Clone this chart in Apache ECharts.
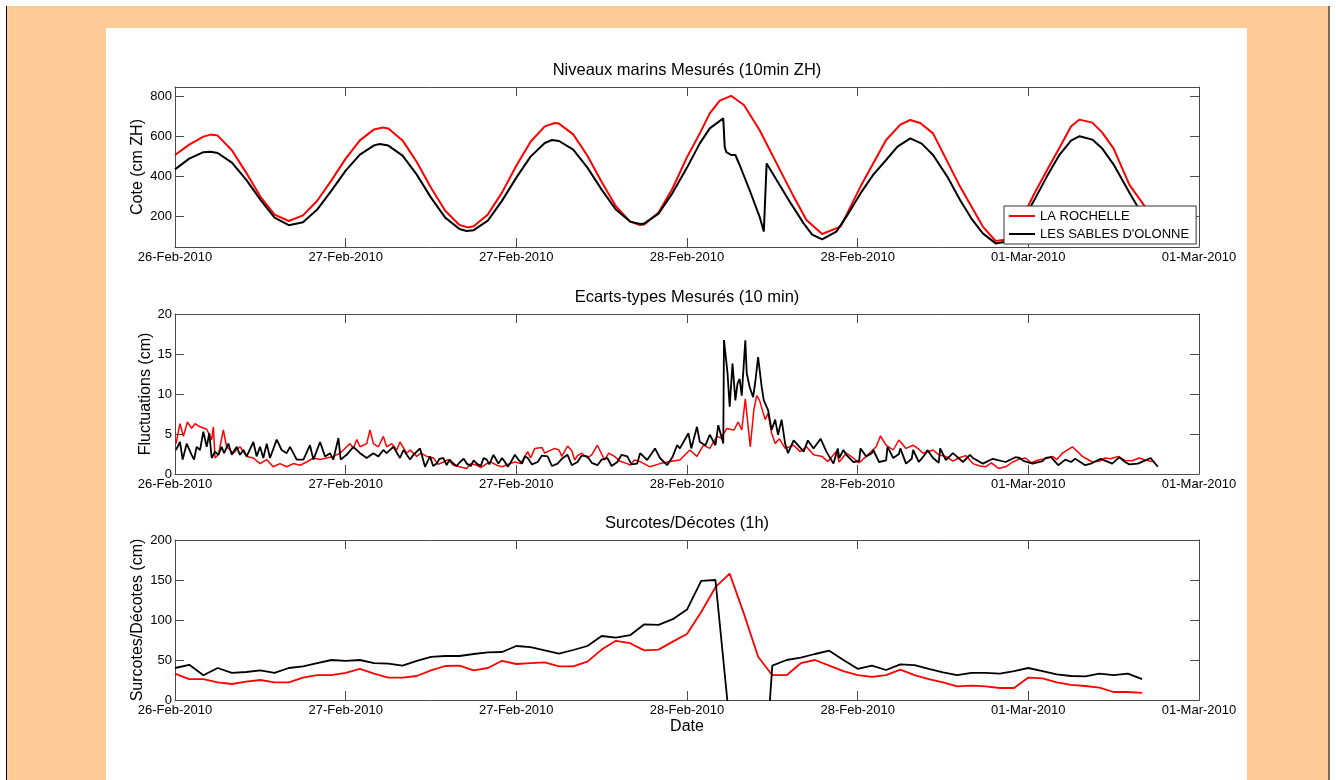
<!DOCTYPE html>
<html><head><meta charset="utf-8">
<script src="https://cdn.jsdelivr.net/npm/echarts@6/dist/echarts.min.js"></script>
<style>
html,body{margin:0;padding:0;background:#fff;width:1336px;height:780px;overflow:hidden;}
#bg{position:absolute;left:7px;top:6px;width:1321px;height:774px;background:#FFCC99;}
#lline{position:absolute;left:6px;top:6px;width:1px;height:774px;background:#000;}
#rline{position:absolute;left:1328px;top:6px;width:2px;height:774px;background:#7d6b5d;}
#panel{position:absolute;left:106px;top:28px;width:1141px;height:752px;background:#fff;}
#chart{position:absolute;left:0;top:0;width:1336px;height:780px;}
</style></head><body>
<div id="bg"></div><div id="lline"></div><div id="rline"></div><div id="panel"></div>
<div id="chart"></div>
<script>
// x axis: hours since 26-Feb-2010 12:00, tick every 12 h
const tickLabels = ['26-Feb-2010','27-Feb-2010','27-Feb-2010','28-Feb-2010','28-Feb-2010','01-Mar-2010','01-Mar-2010'];
const seriesNames = ['LA ROCHELLE', "LES SABLES D'OLONNE"];
const titles = ['Niveaux marins Mesurés (10min ZH)', 'Ecarts-types Mesurés (10 min)', 'Surcotes/Décotes (1h)'];
const yNames = ['Cote (cm ZH)', 'Fluctuations (cm)', 'Surcotes/Décotes (cm)'];
const topTicks = [200, 400, 600, 800];

// --- Niveaux marins (cm ZH) ---
const levelHoursRochelle = [0,1,2,2.5,3,4,5,6,7,8,9,10,11,12,13,14,14.6,15,16,17,18,19,20,20.6,21,22,23,24,25,26,26.7,27,28,29,30,31,32,32.7,33,34,35,36,36.9,37.6,38.3,39.1,40.0,41.1,42.3,43.5,44.4,45.5,46.8,48.2,50.0,51.0,51.7,52.4,53.3,55.2,56.8,57.7,58.5,59.0,60.4,61.3,62.2,63.0,63.6,64.5,65.2,66.0,67.1,68.3,69.5];
const levelRochelle = [508,560,600,610,605,532,420,300,210,178,206,279,381,490,581,636,645,640,581,473,344,229,158,146,152,211,321,454,574,651,668,665,611,504,373,252,175,158,161,221,343,497,616,716,780,804,758,633,466,300,183,113,150,350,583,660,683,668,616,350,150,78,85,112,312,430,545,650,685,670,620,540,360,240,120];
const levelHoursSables = [0,1,2,2.5,3,4,5,6,7,8,9,10,11,12,13,14,14.4,15,16,17,18,19,20,20.5,21,22,23,24,25,26,26.5,27,28,29,30,31,32,32.7,33,34,35,36,36.9,37.6,38.55,38.65,38.75,39.1,39.4,39.7,40.4,41.1,41.4,41.6,42.3,43.3,44.2,44.8,45.5,46.5,47.3,48.2,49.1,50.0,50.8,51.7,52.5,53.3,54.3,55.2,56.0,56.8,57.7,58.5,59.0,60.4,61.3,62.2,63.0,63.6,64.5,65.2,66.0,67.1,67.7,68.5,69.5];
const levelSables = [436,490,522,524,518,470,385,285,195,157,172,235,330,430,510,556,563,555,505,410,295,195,138,128,132,180,280,395,500,568,583,578,535,445,335,235,175,163,166,215,320,445,566,641,691,550,524,508,508,458,333,200,125,466,383,266,166,110,86,125,210,316,410,483,550,591,565,508,400,283,190,116,66,75,100,280,400,510,580,602,585,540,460,320,248,170,100];

// --- Ecarts-types (cm), [hour, value] ---
const stdRochelle = [[0.07,3.8],[0.35,6.3],[0.59,4.7],[0.87,6.5],[1.17,5.7],[1.41,6.3],[1.76,5.9],[2.23,5.6],[2.58,4.3],[2.70,5.9],[2.81,2.0],[3.05,2.4],[3.40,5.5],[3.63,3.4],[4.10,2.6],[4.57,3.4],[5.04,2.2],[5.51,2.0],[5.98,1.3],[6.45,1.8],[6.91,0.9],[7.38,1.3],[7.85,0.9],[8.32,1.3],[8.79,1.1],[9.26,1.5],[9.73,2.0],[10.20,1.8],[10.67,2.0],[11.13,2.2],[11.60,2.6],[12.07,3.4],[12.31,3.8],[12.54,3.2],[12.78,4.3],[13.01,3.4],[13.48,3.8],[13.71,5.5],[13.95,3.8],[14.30,3.4],[14.65,4.7],[14.88,3.4],[15.24,3.8],[15.59,3.0],[15.82,4.0],[16.29,2.6],[16.53,3.0],[16.99,2.2],[17.3,2.6],[17.70,2.2],[18.17,2.0],[18.5,1.2],[18.87,1.5],[19.2,1.8],[19.57,1.1],[20.0,0.9],[20.51,0.7],[20.8,1.3],[21.21,1.1],[21.5,0.8],[21.92,1.3],[22.2,1.5],[22.62,1.1],[23.0,0.9],[23.4,1.2],[23.9,1.5],[24.3,1.3],[24.8,2.8],[25.0,2.0],[25.3,3.2],[25.8,3.3],[26.0,2.6],[26.2,2.8],[26.7,3.2],[27.0,3.0],[27.2,2.2],[27.6,3.5],[27.9,2.9],[28.1,1.75],[28.3,2.3],[28.6,2.6],[29.0,2.0],[29.3,2.4],[29.7,3.6],[30.2,1.75],[30.5,2.6],[30.9,2.2],[31.3,1.6],[31.8,1.3],[32.0,1.1],[32.3,1.75],[32.7,1.55],[33.4,0.9],[34.1,1.3],[34.8,1.55],[35.5,1.75],[36.2,3.0],[36.7,2.2],[37.15,3.6],[37.6,3.2],[38.1,4.7],[38.4,4.5],[38.8,5.7],[39.3,5.5],[39.6,6.5],[39.85,5.5],[40.1,9.4],[40.3,5.9],[40.45,3.4],[40.7,8.0],[40.9,9.8],[41.1,9.2],[41.5,6.8],[41.7,7.6],[41.95,5.1],[42.2,3.8],[42.5,4.4],[42.9,3.2],[43.5,3.6],[43.95,2.8],[44.4,3.4],[44.9,2.4],[45.5,2.2],[45.9,1.55],[46.5,2.8],[46.7,1.5],[47.2,2.6],[47.7,2.0],[48.1,1.4],[48.6,2.2],[49.3,3.4],[49.6,4.75],[50.0,3.6],[50.5,3.0],[50.9,4.25],[51.4,3.2],[51.9,3.6],[52.3,3.1],[52.6,2.6],[53.3,3.0],[53.7,2.4],[54.2,2.2],[54.7,1.6],[55.1,2.0],[55.6,2.3],[56.1,1.3],[56.6,1.0],[57.0,0.9],[57.4,1.4],[57.9,0.7],[58.4,0.9],[58.9,1.5],[59.3,1.8],[59.8,2.0],[60.2,1.4],[60.7,1.75],[61.2,1.9],[61.7,2.2],[62.0,1.8],[62.4,2.6],[63.1,3.4],[63.8,2.2],[64.0,2.0],[64.5,1.5],[65.0,1.6],[65.4,2.0],[65.8,1.9],[66.3,2.2],[66.8,1.7],[67.3,1.65],[67.8,2.0],[68.2,1.75],[68.6,1.6],[68.9,1.5]];
const stdSables = [[0.07,3.0],[0.35,4.0],[0.54,1.8],[0.82,3.8],[1.17,2.4],[1.34,1.8],[1.52,3.4],[1.76,3.0],[1.99,5.3],[2.23,3.4],[2.41,5.1],[2.58,2.0],[2.81,2.8],[3.05,2.4],[3.28,3.4],[3.45,2.6],[3.75,3.8],[3.99,2.4],[4.34,3.4],[4.57,2.4],[4.81,3.0],[5.04,2.2],[5.51,4.0],[5.74,2.2],[5.98,3.4],[6.21,2.0],[6.45,3.8],[6.68,2.0],[7.15,4.3],[7.50,3.0],[7.85,2.6],[8.09,3.4],[8.56,1.8],[9.03,1.8],[9.49,3.6],[9.73,1.8],[10.20,4.0],[10.55,2.2],[10.90,2.6],[11.13,1.8],[11.49,4.5],[11.65,1.8],[12.07,2.4],[12.54,3.4],[13.01,2.6],[13.48,2.0],[13.95,2.6],[14.30,2.2],[14.65,3.0],[14.88,2.6],[15.35,3.4],[15.82,2.0],[16.06,3.0],[16.53,1.8],[16.76,2.4],[17.23,3.2],[17.58,0.9],[17.93,2.2],[18.15,1.0],[18.40,1.3],[18.6,1.9],[18.87,2.0],[19.1,1.1],[19.3,1.8],[19.57,1.3],[19.8,1.0],[20.04,1.5],[20.3,1.9],[20.51,1.3],[20.8,1.0],[21.0,1.7],[21.21,1.3],[21.5,1.0],[21.7,2.0],[21.92,1.8],[22.1,1.2],[22.39,2.4],[22.74,1.3],[23.0,2.0],[23.2,1.5],[23.4,0.9],[23.65,1.6],[23.9,2.4],[24.1,1.9],[24.4,1.3],[24.6,2.2],[24.8,2.0],[25.1,1.2],[25.5,1.5],[25.8,2.3],[26.2,2.2],[26.5,1.0],[26.9,1.3],[27.2,1.9],[27.6,2.4],[27.9,1.1],[28.3,1.5],[28.6,2.3],[29.0,2.2],[29.3,1.4],[29.7,1.1],[30.0,1.8],[30.4,2.0],[30.7,1.0],[31.1,1.5],[31.4,2.4],[31.8,2.2],[32.1,1.2],[32.5,1.3],[32.7,2.6],[33.2,1.75],[33.75,3.2],[34.1,2.0],[34.6,1.1],[35.0,2.2],[35.3,3.6],[35.5,3.2],[36.1,5.1],[36.3,3.2],[36.7,5.9],[36.9,4.0],[37.3,3.6],[37.6,4.9],[38.0,3.6],[38.2,6.1],[38.55,3.8],[38.6,16.75],[38.85,12.6],[39.0,8.4],[39.2,13.8],[39.4,9.2],[39.55,11.3],[39.7,11.9],[39.85,9.8],[40.1,16.7],[40.2,12.6],[40.4,10.9],[40.65,9.6],[40.8,11.5],[41.0,14.6],[41.25,10.9],[41.4,9.2],[41.7,8.0],[41.95,5.5],[42.2,6.8],[42.4,4.9],[42.65,6.8],[42.9,3.8],[43.1,2.6],[43.5,4.2],[43.8,3.6],[44.2,2.8],[44.5,4.2],[44.9,3.2],[45.4,4.4],[45.8,2.8],[46.3,1.3],[46.6,3.2],[46.7,2.0],[47.0,3.0],[47.2,2.4],[47.7,1.5],[48.1,1.6],[48.2,3.2],[48.6,2.2],[49.0,2.6],[49.1,3.0],[49.5,1.5],[50.0,1.7],[50.1,3.4],[50.5,2.0],[50.9,2.5],[51.0,3.2],[51.4,1.3],[51.8,1.9],[51.9,3.0],[52.3,1.5],[52.8,2.6],[52.9,3.0],[53.3,2.0],[53.7,1.4],[53.8,3.2],[54.2,1.75],[54.7,2.6],[54.8,2.4],[55.4,1.5],[55.9,2.4],[56.1,2.0],[56.8,1.3],[57.5,1.9],[57.6,2.0],[58.4,1.5],[59.1,2.1],[59.4,2.0],[59.7,1.6],[60.3,1.3],[61.0,1.6],[61.2,2.0],[61.6,2.1],[62.1,1.1],[62.6,1.8],[63.0,1.5],[63.3,1.9],[64.0,1.1],[64.4,1.3],[64.9,1.75],[65.1,1.9],[65.9,1.3],[66.4,2.1],[66.8,1.5],[67.1,1.2],[67.7,1.3],[68.1,1.6],[68.6,2.0],[69.1,0.9]];

// --- Surcotes/Décotes (cm), hourly from hour 0 ---
const surgeHours = [0,1,2,3,4,5,6,7,8,9,10,11,12,13,14,15,16,17,18,19,20,21,22,23,24,25,26,27,28,29,30,31,32,33,34,35,36,37,38,39,40,41,42,43,44,45,46,47,48,49,50,51,52,53,54,55,56,57,58,59,60,61,62,63,64,65,66,67,68];
const surgeRochelle = [33,26,26,22,20,23,25,22,22,28,31,31,34,39,33,28,28,30,37,42.5,43,37,40,49,45,46,47,42,42,48,63,74,71,62,63,73,82.5,110,141,158,108,54,31,31,46,50,43,36,31,29,31,38,31,26,22,17,18,17,15,15,28,27,22,19,17.5,15.4,10,10,9];
const surgeSables = [40,44,31,40,34,35,37,34,40,42,46,50,49,50,46,45.5,43,49,54,55,55,57.5,59.6,60,67.5,66,62,58,62.5,67.5,80,78,81,94.6,94,101,113,149,150,-30,-150,-210,43,50,53,57.5,61.7,50,39,43,37.5,44.6,43.7,39,34.6,31,34,34,33,36,40,36,32,30,29.6,33,31,33,26];

const FONT = "'Liberation Sans', Arial, Helvetica, sans-serif";
const AX = '#4a4a4a';
const RED = '#ff0000', BLACK = '#000000';

const zip = (hs, vs) => hs.map((h, i) => [h, vs[i]]);
const sorted = arr => arr.slice().sort((a, b) => a[0] - b[0]);

const grids = [
  {left: 175, top: 87, width: 1024, height: 160},
  {left: 175, top: 314, width: 1024, height: 160},
  {left: 175, top: 540, width: 1024, height: 160}
];

function xPair(gi, name) {
  const base = {gridIndex: gi, type: 'value', min: 0, max: 72, interval: 12,
    axisLine: {show: true, onZero: false, lineStyle: {color: AX, width: 1}},
    axisTick: {show: true, inside: true, length: 9, lineStyle: {color: AX, width: 1}},
    splitLine: {show: false}};
  return [
    Object.assign({}, base, {position: 'bottom',
      axisLabel: {show: true, margin: 4, color: '#000', fontSize: 13, fontFamily: FONT,
        formatter: v => tickLabels[Math.round(v / 12)]},
      name: name || '', nameLocation: 'middle', nameGap: 19, nameMoveOverlap: false,
      nameTextStyle: {color: '#000', fontSize: 16, fontFamily: FONT}}),
    Object.assign({}, base, {position: 'top', axisLabel: {show: false}})
  ];
}
function yPair(gi, min, max, interval, custom, name, gap) {
  const base = {gridIndex: gi, type: 'value', min: min, max: max,
    axisLine: {show: true, onZero: false, lineStyle: {color: AX, width: 1}},
    axisTick: {show: true, inside: true, length: 9, lineStyle: {color: AX, width: 1}},
    splitLine: {show: false}};
  if (custom) { base.axisTick.customValues = custom; } else { base.interval = interval; }
  const lab = {show: true, margin: 3, color: '#000', fontSize: 13, fontFamily: FONT};
  if (custom) lab.customValues = custom;
  return [
    Object.assign({}, base, {position: 'left', axisLabel: lab, name: name,
      nameLocation: 'middle', nameGap: gap, nameRotate: 90, nameMoveOverlap: false,
      nameTextStyle: {color: '#000', fontSize: 16, fontFamily: FONT}}),
    Object.assign({}, base, {position: 'right', axisLabel: {show: false}})
  ];
}
function line(name, data, color, xi, yi, width) {
  return {type: 'line', name: name, data: data, xAxisIndex: xi, yAxisIndex: yi,
    showSymbol: false, symbol: 'none', clip: true, animation: false,
    lineStyle: {color: color, width: width}, itemStyle: {color: color}};
}

const chart = echarts.init(document.getElementById('chart'), null, {renderer: 'canvas'});
chart.setOption({
  backgroundColor: 'transparent',
  animation: false,
  title: titles.map((t, i) => ({text: t, left: 687, top: [62, 289, 515][i], textAlign: 'center', padding: 0,
    textStyle: {fontSize: 16.5, fontWeight: 'normal', color: '#000', fontFamily: FONT}})),
  legend: {data: seriesNames, orient: 'vertical', left: 1004, top: 206, padding: [3, 7, 3, 5], itemGap: 4,
    itemWidth: 26, itemHeight: 2, icon: 'rect', backgroundColor: '#fff', borderColor: '#333', borderWidth: 1,
    borderRadius: 0, selectedMode: false, z: 10,
    textStyle: {fontSize: 13, fontFamily: FONT, color: '#000', lineHeight: 14}},
  grid: grids,
  xAxis: [].concat(xPair(0), xPair(1), xPair(2, 'Date')),
  yAxis: [].concat(
    yPair(0, 48, 848, null, topTicks, yNames[0], 29),
    yPair(1, 0, 20, 5, null, yNames[1], 21),
    yPair(2, 0, 200, 50, null, yNames[2], 29)),
  series: [
    line(seriesNames[0], zip(levelHoursRochelle, levelRochelle), RED, 0, 0, 2),
    line(seriesNames[1], zip(levelHoursSables, levelSables), BLACK, 0, 0, 2),
    line(seriesNames[0], sorted(stdRochelle), RED, 2, 2, 1.5),
    line(seriesNames[1], sorted(stdSables), BLACK, 2, 2, 1.8),
    line(seriesNames[0], zip(surgeHours, surgeRochelle), RED, 4, 4, 1.8),
    line(seriesNames[1], zip(surgeHours, surgeSables), BLACK, 4, 4, 1.8)
  ]
});
</script>
</body></html>
